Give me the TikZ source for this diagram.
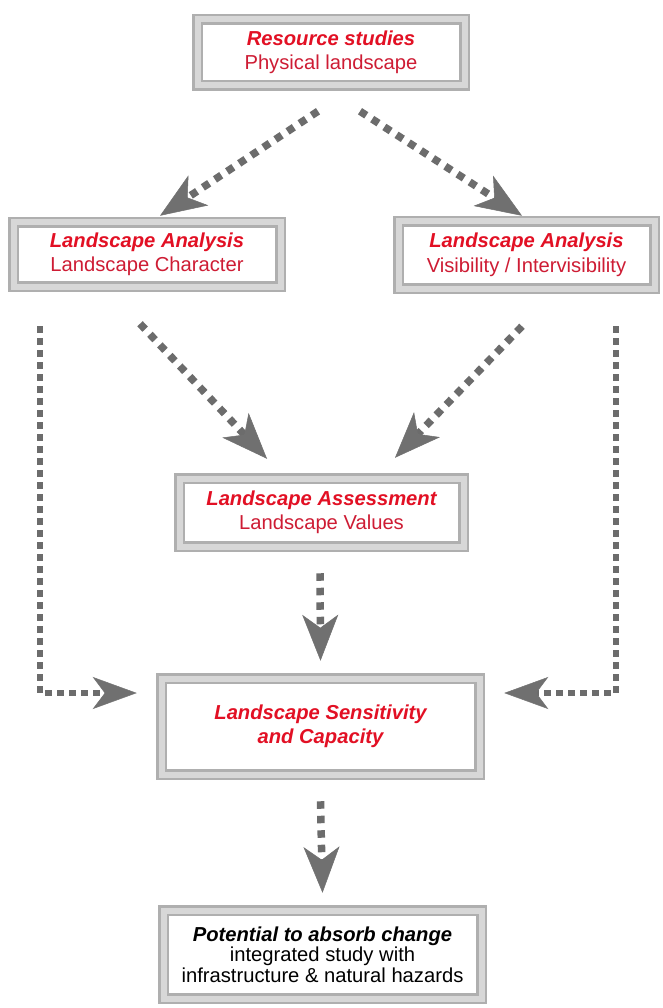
\documentclass[tikz,border=0pt]{standalone}
\usepackage{fontspec}
\setmainfont{Liberation Sans}
\usetikzlibrary{arrows.meta}
\definecolor{frameout}{RGB}{175,175,175}
\definecolor{framein}{RGB}{215,215,215}
\definecolor{dotgray}{RGB}{108,108,108}
\definecolor{headgray}{RGB}{112,112,112}
\definecolor{titlered}{RGB}{226,16,36}
\definecolor{subred}{RGB}{206,28,52}
\newcommand{\ttl}[1]{{\bfseries\itshape\color{titlered}#1}}
\newcommand{\sub}[1]{{\color{subred}#1}}
\begin{document}
\begin{tikzpicture}[x=1pt,y=-1pt,
  box/.style={draw=frameout, double=framein, double distance=6pt, line width=2.5pt,
    fill=white, inner sep=0pt, align=center, font=\fontsize{20.2}{24.5}\selectfont},
  flow/.style={draw=dotgray, line width=7.5pt, dash pattern=on 7.5pt off 7pt,
    -{Stealth[length=46pt,width=36pt,inset=13pt,line width=0.5pt,color=headgray]}},
  flowside/.style={draw=dotgray, line width=6.5pt, dash pattern=on 6.5pt off 5.5pt,
    -{Stealth[length=44pt,width=32pt,inset=12pt,line width=0.5pt,color=headgray]}}]
\useasboundingbox (0,0) rectangle (663,1008);
\fill[white] (0,0) rectangle (663,1008);

\node[box, minimum width=267pt, minimum height=66pt] (top) at (331,52.5)
  {\ttl{Resource studies}\\\sub{Physical landscape}};
\node[box, minimum width=267pt, minimum height=64pt] (lac) at (147,254.5)
  {\ttl{Landscape Analysis}\\\sub{Landscape Character}};
\node[box, minimum width=256pt, minimum height=67pt] (lav) at (526.5,255)
  {\ttl{Landscape Analysis}\\\sub{Visibility / Intervisibility}};
\node[box, minimum width=284pt, minimum height=68pt] (ass) at (321.5,512.5)
  {\ttl{Landscape Assessment}\\\sub{Landscape Values}};
\node[box, minimum width=318pt, minimum height=96pt] (sens) at (320.5,726.5)
  {\ttl{Landscape Sensitivity}\\\ttl{and Capacity}};
\node[box, minimum width=318pt, minimum height=88pt, font=\fontsize{20.2}{20.5}\selectfont] (bot) at (322.5,954.5)
  {\textbf{\textit{Potential to absorb change}}\\integrated study with\\infrastructure \& natural hazards};

\draw[flow] ([xshift=-13pt,yshift=-24.5pt]top.south) -- ([xshift=13pt,yshift=5.5pt]lac.north);
\draw[flow] ([xshift=29pt,yshift=-24.5pt]top.south) -- ([xshift=-4.5pt,yshift=4.5pt]lav.north);
\draw[flow] ([xshift=-7pt,yshift=-36pt]lac.south) -- ([xshift=-54.5pt,yshift=18.5pt]ass.north);
\draw[flow] ([xshift=-4.5pt,yshift=-36.5pt]lav.south) -- ([xshift=73.5pt,yshift=19.5pt]ass.north);
\draw[flowside] ([xshift=-107pt,yshift=-38.5pt]lac.south) |- ([xshift=-23.5pt,yshift=33.5pt]sens.west);
\draw[flowside] ([xshift=89.5pt,yshift=-36.5pt]lav.south) |- ([xshift=23.5pt,yshift=33.5pt]sens.east);
\draw[flow] ([xshift=-1.5pt,yshift=-25.5pt]ass.south) -- ([yshift=16.5pt]sens.north);
\draw[flow] ([yshift=-25.5pt]sens.south) -- ([yshift=16.5pt]bot.north);
\end{tikzpicture}
\end{document}
